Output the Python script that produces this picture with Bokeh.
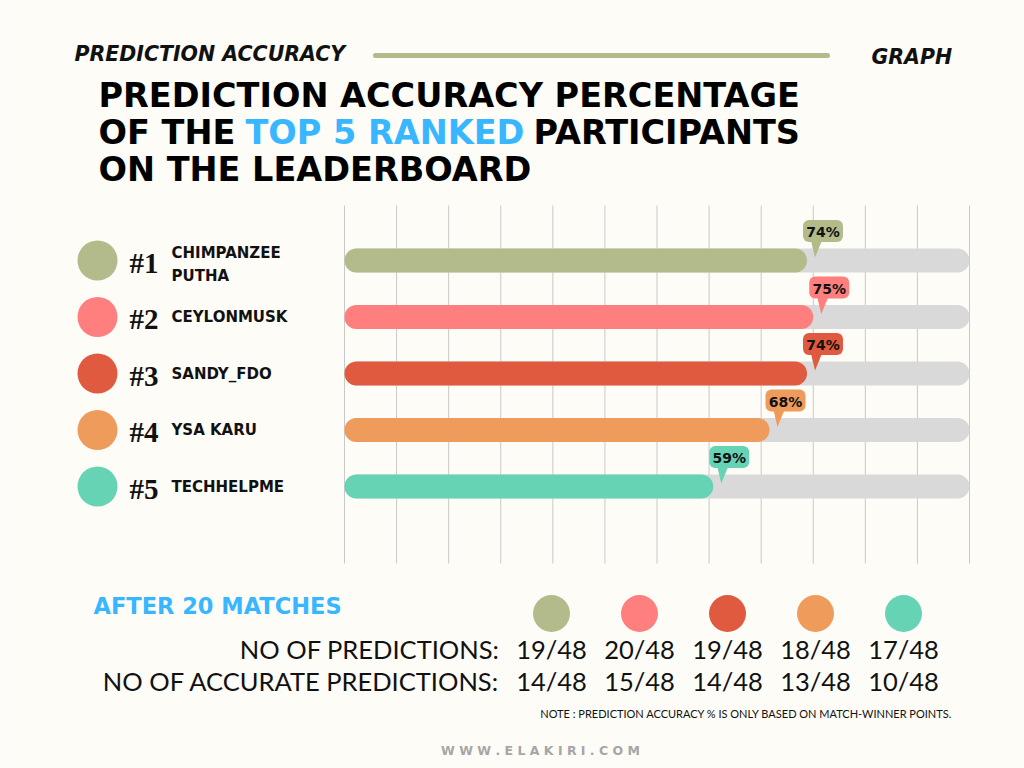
from bokeh.plotting import figure
from bokeh.models import Range1d
from bokeh.core.properties import value
from bokeh.embed import file_html
from bokeh.resources import INLINE

# ---------------- data ----------------
ranks = ["#1", "#2", "#3", "#4", "#5"]
names = ["CHIMPANZEE\nPUTHA", "CEYLONMUSK", "SANDY_FDO", "YSA KARU", "TECHHELPME"]
accuracy = [74, 75, 74, 68, 59]
predictions = ["19/48", "20/48", "19/48", "18/48", "17/48"]
accurate = ["14/48", "15/48", "14/48", "13/48", "10/48"]
colors = ["#b2bb89", "#ff7f7e", "#e05a40", "#ef9b5b", "#66d4b4"]

# ---------------- style / layout ----------------
BG = "#fdfcf7"
BLUE = "#38b6ff"
TRACK = "#d9d9d9"
GRID = "#c9c9c9"
PX = 6.25            # pixels per percent on the bar scale
X0 = 344             # pixel of 0 %
ROW0, ROWSTEP = 260, 56.5
row_y = [ROW0 + i * ROWSTEP for i in range(len(names))]
col_x = [551 + i * 88 for i in range(len(names))]
cap = 12 / PX

p = figure(width=1024, height=768, x_range=Range1d(0, 1024), y_range=Range1d(768, 0),
           output_backend="svg", toolbar_location=None, min_border=0,
           x_axis_location=None, y_axis_location=None)
p.grid.visible = False
p.outline_line_color = None
p.background_fill_color = BG
p.border_fill_color = BG
p.extra_x_ranges = {"pct": Range1d(-X0 / PX, (1024 - X0) / PX)}

# ---------------- header ----------------
hkw = dict(text_font=value("DejaVu Sans"), text_font_style="bold italic", text_font_size="20.5px",
           text_color="#111111", text_baseline="middle", text_align="left")
p.text(x=[74], y=[53], text=["PREDICTION ACCURACY"], **hkw)
p.segment(x0=[375], y0=[55], x1=[827], y1=[55], line_color="#b2bb89", line_width=5, line_cap="round")
p.text(x=[871], y=[56], text=["GRAPH"], **hkw)

tkw = dict(text_font=value("DejaVu Sans"), text_font_style="bold", text_font_size="33.5px",
           text_baseline="middle", text_align="left")
p.text(x=[98], y=[95], text=["PREDICTION ACCURACY PERCENTAGE"], text_color="#000000", **tkw)
p.text(x=[98], y=[132], text=["OF THE"], text_color="#000000", **tkw)
p.text(x=[245], y=[132], text=["TOP 5 RANKED"], text_color=BLUE, **tkw)
p.text(x=[533], y=[132], text=["PARTICIPANTS"], text_color="#000000", **tkw)
p.text(x=[98], y=[169], text=["ON THE LEADERBOARD"], text_color="#000000", **tkw)

# ---------------- grid ----------------
ticks = [i * 100 / 12 for i in range(13)]
p.segment(x0=ticks, y0=[205] * 13, x1=ticks, y1=[563] * 13, x_range_name="pct",
          line_color=GRID, line_width=1)

# ---------------- bars ----------------
n = len(names)
p.segment(x0=[cap] * n, y0=row_y, x1=[100 - cap] * n, y1=row_y, x_range_name="pct",
          line_color=TRACK, line_width=24, line_cap="round")
p.segment(x0=[cap] * n, y0=row_y, x1=[a - cap for a in accuracy], y1=row_y, x_range_name="pct",
          line_color=colors, line_width=24, line_cap="round")

# bubbles
bx = [a + 16 / PX for a in accuracy]
by = [y - 29.5 for y in row_y]
xs, ys = [], []
for a, y in zip(accuracy, row_y):
    xs.append([a + 4 / PX, a + 15 / PX, a + 8 / PX])
    ys.append([y - 20, y - 20, y - 3])
p.patches(xs=xs, ys=ys, x_range_name="pct", fill_color=colors, line_color=None)
p.rect(x=bx, y=by, width=40, height=22, width_units="screen", height_units="screen",
       x_range_name="pct", fill_color=colors, line_color=None, border_radius=6)
p.text(x=bx, y=[b + 1 for b in by], text=[f"{a}%" for a in accuracy], x_range_name="pct",
       text_font=value("DejaVu Sans"), text_font_style="bold", text_font_size="14px",
       text_color="#111111", text_align="center", text_baseline="middle")

# ---------------- left labels ----------------
p.scatter(x=[97] * n, y=row_y, size=40, marker="circle", fill_color=colors, line_color=None)
p.text(x=[129] * n, y=[y + 2 for y in row_y], text=ranks, text_font=value("Liberation Serif"),
       text_font_style="bold", text_font_size="29px", text_color="#111111",
       text_align="left", text_baseline="middle")
p.text(x=[171] * n, y=[y + 4 if "\n" in nm else y for nm, y in zip(names, row_y)], text=names,
       text_font=value("DejaVu Sans"), text_font_style="bold", text_font_size="15px",
       text_color="#111111", text_align="left", text_baseline="middle", text_line_height=1.3)

# ---------------- bottom table ----------------
p.text(x=[93], y=[605], text=["AFTER 20 MATCHES"], text_font=value("DejaVu Sans"),
       text_font_style="bold", text_font_size="22.5px", text_color=BLUE,
       text_align="left", text_baseline="middle")
p.scatter(x=col_x, y=[613] * n, size=37, marker="circle", fill_color=colors, line_color=None)
lkw = dict(text_font=value("Lato"), text_font_size="25.5px", text_color="#111111",
           text_baseline="middle")
p.text(x=[499], y=[648], text=["NO OF PREDICTIONS:"], text_align="right", **lkw)
p.text(x=[499], y=[680], text=["NO OF ACCURATE PREDICTIONS:"], text_align="right", **lkw)
p.text(x=col_x, y=[648] * n, text=predictions, text_align="center", **lkw)
p.text(x=col_x, y=[680] * n, text=accurate, text_align="center", **lkw)

p.text(x=[952], y=[713], text=["NOTE : PREDICTION ACCURACY % IS ONLY BASED ON MATCH-WINNER POINTS."],
       text_font=value("Lato"), text_font_size="11px", text_color="#111111",
       text_align="right", text_baseline="middle")
p.text(x=[540], y=[750], text=["W W W . E L A K I R I . C O M"], text_font=value("DejaVu Sans"),
       text_font_style="bold", text_font_size="12.5px", text_color="#a6a6a6",
       text_align="center", text_baseline="middle")

open("out.html", "w").write(file_html(p, INLINE))
